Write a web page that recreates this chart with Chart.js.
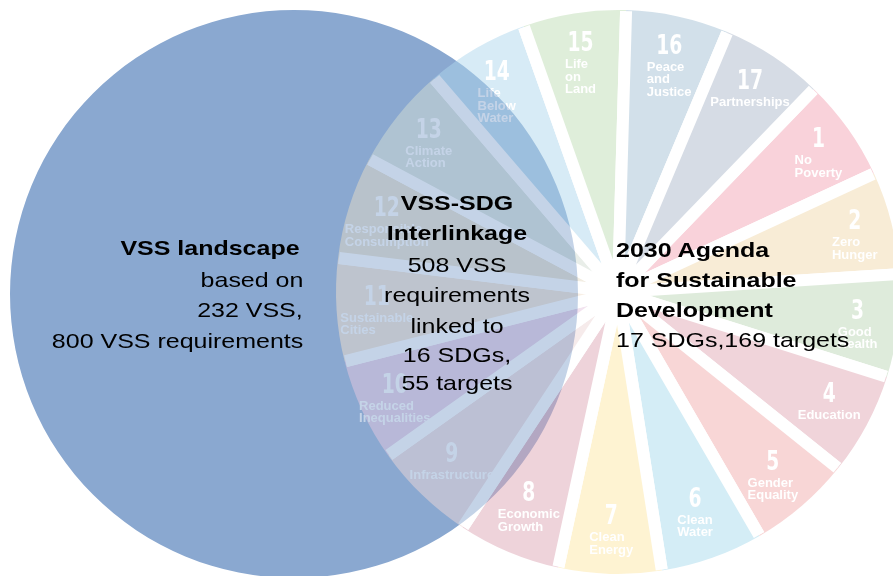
<!DOCTYPE html>
<html>
<head>
<meta charset="utf-8">
<script src="https://cdn.jsdelivr.net/npm/chart.js@4.4.1/dist/chart.umd.min.js"></script>
<style>
  html, body { margin: 0; padding: 0; background: #ffffff; }
  #stage { position: relative; width: 893px; height: 576px; overflow: hidden; background: #ffffff; }
  canvas { position: absolute; }
  .t { position: absolute; white-space: nowrap; font-family: "Liberation Sans", Arial, sans-serif;
       font-size: 21px; line-height: 30px; color: #000; }
  .b { font-weight: bold; }
</style>
</head>
<body>
<div id="stage">
  <canvas id="vss" width="568" height="568" style="left:10px; top:10px;"></canvas>
  <canvas id="sdg" width="600" height="600" style="left:318px; top:-8px; opacity:0.5;"></canvas>
  <div id="texts"></div>
</div>
<script>
// ---------------- data ----------------
const vssLabels = ['VSS landscape'];
const vssRequirements = [800];

const sdgNumbers = ['1','2','3','4','5','6','7','8','9','10','11','12','13','14','15','16','17'];
const sdgNames = [
  'No\nPoverty', 'Zero\nHunger', 'Good\nHealth', 'Education', 'Gender\nEquality',
  'Clean\nWater', 'Clean\nEnergy', 'Economic\nGrowth', 'Infrastructure', 'Reduced\nInequalities',
  'Sustainable\nCities', 'Responsible\nConsumption', 'Climate\nAction', 'Life\nBelow\nWater',
  'Life\non\nLand', 'Peace\nand\nJustice', 'Partnerships'
];
const sdgValues = [1, 1, 1, 1, 1, 1, 1, 1, 1, 1, 1, 1, 1, 1, 1, 1, 1];

const landscapeLines = ['VSS landscape', 'based on', '232 VSS,', '800 VSS requirements'];
const interlinkLines = ['VSS-SDG', 'Interlinkage', '508 VSS', 'requirements', 'linked to', '16 SDGs,', '55 targets'];
const agendaLines = ['2030 Agenda', 'for Sustainable', 'Development', '17 SDGs,169 targets'];

// ---------------- styles ----------------
const sdgColors = [
  'rgb(243,165,181)', 'rgb(241,217,173)', 'rgb(189,215,183)', 'rgb(225,169,181)', 'rgb(241,173,173)',
  'rgb(169,219,237)', 'rgb(253,231,165)', 'rgb(221,167,181)', 'rgb(238,216,216)', 'rgb(230,200,224)',
  'rgb(242,224,204)', 'rgb(230,220,198)', 'rgb(212,222,212)', 'rgb(175,215,237)', 'rgb(191,221,181)',
  'rgb(165,193,213)', 'rgb(173,185,203)'
];
// relative radial placement of each sector's label (fraction of the sector radius)
const sdgLabelRadius = [0.872, 0.866, 0.856, 0.849, 0.842, 0.818, 0.833, 0.815, 0.848, 0.872,
                        0.857, 0.86, 0.86, 0.857, 0.856, 0.856, 0.85];
const circleColor = '#8aa8d0';

// ---------------- big circle ----------------
new Chart(document.getElementById('vss'), {
  type: 'pie',
  data: { labels: vssLabels, datasets: [{ data: vssRequirements, backgroundColor: circleColor, borderWidth: 0 }] },
  options: {
    responsive: false, animation: false, layout: { padding: 0 },
    plugins: { legend: { display: false }, tooltip: { enabled: false } }
  }
});

// ---------------- SDG wheel ----------------
const sdgLabelPlugin = {
  id: 'sdgLabels',
  afterDatasetsDraw(chart) {
    const ctx = chart.ctx;
    const meta = chart.getDatasetMeta(0);
    meta.data.forEach((arc, i) => {
      const mid = (arc.startAngle + arc.endAngle) / 2;
      const rr = arc.outerRadius * sdgLabelRadius[i];
      const ax = arc.x + Math.cos(mid) * rr;
      const ay = arc.y + Math.sin(mid) * rr;
      const numY = ay - 12;
      ctx.save();
      ctx.fillStyle = '#ffffff';
      ctx.textBaseline = 'alphabetic';
      ctx.font = 'bold 26px "Liberation Sans Narrow", "DejaVu Sans Condensed", sans-serif';
      ctx.textAlign = 'center';
      ctx.save();
      ctx.translate(ax, numY + 9.5);
      ctx.scale(0.8, 1);
      ctx.fillText(sdgNumbers[i], 0, 0);
      ctx.restore();
      ctx.font = 'bold 13px "Liberation Sans", Arial, sans-serif';
      ctx.textAlign = 'left';
      const lines = sdgNames[i].split('\n');
      const w = Math.max(...lines.map(l => ctx.measureText(l).width));
      lines.forEach((l, k) => ctx.fillText(l, ax - w / 2, numY + 26.5 + k * 12.5));
      ctx.restore();
    });
  }
};

function gapGeometry(c) {
  const r = c.chart.scales.r.getDistanceFromCenterForValue(c.raw);
  const L = r * 2 * Math.PI / c.dataset.data.length;
  return { r, L };
}

new Chart(document.getElementById('sdg'), {
  type: 'polarArea',
  data: {
    labels: sdgNumbers,
    datasets: [{
      data: sdgValues,
      backgroundColor: sdgColors,
      borderColor: '#ffffff',
      borderWidth: 12,
      borderJoinStyle: 'bevel',
      // stroke only the two radial edges (white gaps), not the outer arc
      borderDash: (c) => {
        if (c.type !== 'data') return [];
        const { r, L } = gapGeometry(c);
        return [2 * r - 2, L + 2];
      },
      borderDashOffset: (c) => {
        if (c.type !== 'data') return 0;
        const { r } = gapGeometry(c);
        return 2 * r - 1;
      }
    }]
  },
  options: {
    responsive: false, animation: false, layout: { padding: 0 },
    plugins: { legend: { display: false }, tooltip: { enabled: false } },
    scales: { r: { display: false, min: 0, max: 1.0638, startAngle: 44 } }
  },
  plugins: [sdgLabelPlugin]
});

// ---------------- annotation texts ----------------
const texts = document.getElementById('texts');
function addLine(str, bold, baseline, x, align) {
  const d = document.createElement('div');
  d.className = 't' + (bold ? ' b' : '');
  d.textContent = str;
  d.style.top = (baseline - 22.3) + 'px';
  if (align === 'right') {
    d.style.right = (893 - x) + 'px';
    d.style.transformOrigin = 'right center';
  } else if (align === 'left') {
    d.style.left = x + 'px';
    d.style.transformOrigin = 'left center';
  } else {
    d.style.left = (x - 200) + 'px';
    d.style.width = '400px';
    d.style.textAlign = 'center';
    d.style.transformOrigin = 'center center';
  }
  d.style.transform = 'scaleX(1.19)';
  texts.appendChild(d);
}
const landscapeBase = [255, 287, 317, 348];
landscapeLines.forEach((s, i) => addLine(s, i === 0, landscapeBase[i], i === 0 ? 300 : 303, 'right'));
const interlinkBase = [210, 240, 272, 302, 333, 362, 390];
interlinkLines.forEach((s, i) => addLine(s, i < 2, interlinkBase[i], 457, 'center'));
const agendaBase = [257, 287, 317, 347];
agendaLines.forEach((s, i) => addLine(s, i < 3, agendaBase[i], 616, 'left'));
</script>
</body>
</html>
